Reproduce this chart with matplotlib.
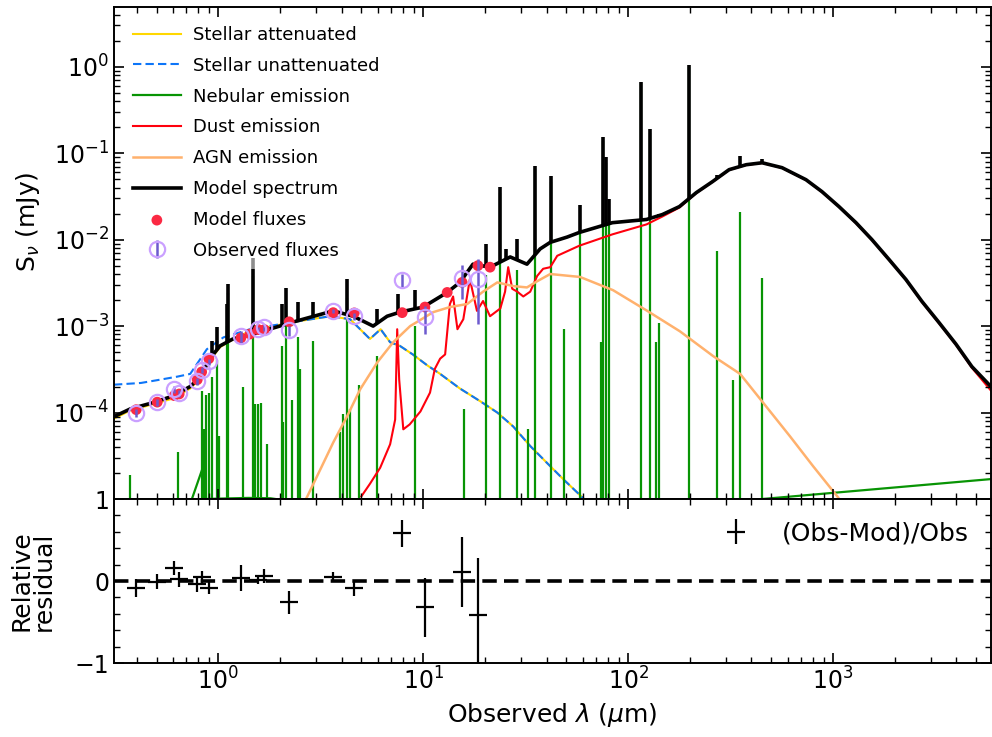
import numpy as np
import matplotlib.pyplot as plt

# wavelengths in micron, fluxes in mJy

stell_unatt_wl = [0.31, 0.42, 0.52, 0.63, 0.73, 0.82, 0.88, 1.06, 1.43, 2.25, 3.52, 4.4, 5.5,
                  6.2, 6.9, 7.7, 8.9, 10.5, 12.1, 15.1, 19.0, 23.0, 27.5, 33.3, 40.3, 48.2,
                  59.7, 75.0]
stell_unatt = [2.1e-4, 2.2e-4, 2.4e-4, 2.6e-4, 2.8e-4, 4.2e-4, 5.4e-4, 7.4e-4, 9.2e-4, 1.1e-3,
               1.3e-3, 1.2e-3, 7.1e-4, 9.2e-4, 6.5e-4, 5.9e-4, 4.7e-4, 3.5e-4, 2.8e-4, 1.9e-4,
               1.35e-4, 1.0e-4, 6.9e-5, 4.1e-5, 2.6e-5, 1.7e-5, 1.05e-5, 6e-6]

stell_att_wl = [0.31, 0.37, 0.48, 0.60, 0.73, 0.82, 0.91, 1.02, 1.18, 1.43, 2.25, 3.52, 4.4,
                5.5, 6.2, 6.9, 7.7, 8.9, 10.5, 12.1, 15.1, 19.0, 23.0, 27.5, 33.3, 40.3, 48.2,
                59.7, 75.0]
stell_att = [8.5e-5, 1.05e-4, 1.25e-4, 1.45e-4, 1.9e-4, 2.5e-4, 4.0e-4, 5.7e-4, 7.0e-4, 8.8e-4,
             1.1e-3, 1.3e-3, 1.2e-3, 7.1e-4, 9.2e-4, 6.5e-4, 5.9e-4, 4.7e-4, 3.5e-4, 2.8e-4,
             1.9e-4, 1.35e-4, 1.0e-4, 6.9e-5, 4.1e-5, 2.6e-5, 1.7e-5, 1.05e-5, 6e-6]

neb_cont_wl = [0.30, 0.72, 0.835, 0.845, 1.4, 1.8, 2.2, 3.0, 50.0, 300.0, 451.0, 5890.0]
neb_cont = [4e-6, 8e-6, 2.2e-5, 1.0e-5, 1.03e-5, 1.02e-5, 9.5e-6, 8e-6, 5e-6, 7e-6, 1.0e-5,
            1.7e-5]

neb_line_wl = [0.372, 0.638, 0.836, 0.855, 0.874, 0.904, 0.935, 0.99, 1.01, 1.10, 1.12, 1.32,
               1.48, 1.51, 1.57, 1.62, 1.73, 2.05, 2.07, 2.15, 2.30, 2.46, 2.51, 2.90, 3.94,
               4.07, 4.26, 4.40, 4.87, 5.97, 9.14, 15.8, 20.3, 23.8, 28.7, 32.5, 35.2, 42.1,
               48.7, 58.3, 73.8, 75.5, 78.1, 80.7, 116, 128, 137, 142, 199, 272, 325, 352, 451]
neb_line = [1.9e-5, 3.5e-5, 1.77e-4, 6.4e-5, 1.6e-4, 1.7e-4, 2.6e-4, 4e-4, 5.3e-5, 1.0e-3,
            2.4e-3, 2.0e-4, 3.8e-3, 1.25e-4, 1.25e-4, 1.3e-4, 4.3e-5, 5.9e-4, 7.7e-5, 1.7e-3,
            1.4e-4, 7.4e-4, 3.2e-4, 6.7e-4, 5.9e-5, 9.6e-5, 2.1e-3, 1.1e-4, 2.1e-4, 4.5e-4,
            1.0e-3, 1.1e-4, 3.9e-3, 3.5e-2, 4.4e-3, 6.4e-5, 6.5e-2, 4.6e-2, 9.2e-4, 1.3e-2,
            6.5e-4, 0.14, 7.7e-2, 1.5e-2, 0.65, 0.17, 6.5e-4, 1.1e-3, 1.0, 7.4e-3, 2.4e-4,
            2.1e-2, 3.6e-3]

dust_wl = [4.99, 5.5, 6.17, 6.9, 7.3, 7.47, 7.64, 8.0, 8.6, 9.7, 10.8, 11.4, 12.1, 12.8, 13.5,
           14.0, 14.7, 15.7, 16.9, 18.3, 19.6, 21.2, 23.8, 25.1, 26.0, 27.2, 28.8, 30.8, 33.3,
           36.0, 38.5, 41.7, 45.1, 57.8, 83.8, 123, 147, 178, 215, 258, 311, 377, 451, 564,
           738, 883, 1069, 1294, 1548, 1875, 2268, 2715, 3288, 3976, 4757, 5890]
dust = [1.07e-5, 1.5e-5, 2.3e-5, 4.3e-5, 8.3e-5, 9.2e-4, 2.4e-4, 6.4e-5, 7.3e-5, 1.03e-4,
        1.7e-4, 3.2e-4, 4.2e-4, 4.7e-4, 1.8e-3, 2.2e-3, 9.2e-4, 1.2e-3, 3.5e-3, 1.5e-3, 1.95e-3,
        1.3e-3, 1.6e-3, 2.5e-3, 4.8e-3, 2.7e-3, 2.5e-3, 2.2e-3, 2.5e-3, 3.8e-3, 4.6e-3, 4.8e-3,
        6.5e-3, 8.5e-3, 1.15e-2, 1.5e-2, 1.85e-2, 2.35e-2, 3.45e-2, 4.65e-2, 6.4e-2, 7.3e-2,
        7.7e-2, 6.75e-2, 4.9e-2, 3.55e-2, 2.4e-2, 1.55e-2, 9.9e-3, 5.85e-3, 3.42e-3, 1.9e-3,
        1.08e-3, 6.1e-4, 3.3e-4, 1.8e-4]

agn_wl = [2.55, 2.72, 3.15, 3.64, 4.26, 4.93, 5.97, 7.14, 8.64, 11.2, 13.5, 16.4, 19.6, 23.0,
          27.5, 32.1, 36.0, 41.7, 58.3, 84.5, 124, 179, 260, 352, 456, 617, 799, 1050, 1150]
agn = [8e-6, 1.07e-5, 2.2e-5, 4.5e-5, 9.1e-5, 1.86e-4, 3.8e-4, 6.5e-4, 1.0e-3, 1.45e-3, 1.66e-3,
       1.8e-3, 2.5e-3, 3.2e-3, 2.9e-3, 2.8e-3, 3.3e-3, 4.0e-3, 3.7e-3, 2.6e-3, 1.5e-3, 8.7e-4,
       4.5e-4, 2.8e-4, 1.3e-4, 5.3e-5, 2.4e-5, 1.07e-5, 8e-6]

model_wl = [0.305, 0.372, 0.48, 0.60, 0.73, 0.82, 0.91, 1.02, 1.18, 1.48, 1.94, 2.43, 3.64,
            4.56, 5.7, 6.67, 7.7, 10.0, 13.1, 15.1, 17.5, 21.2, 26.6, 32.1, 37.2, 41.7, 50.4,
            57.8, 83.8, 123, 147, 178, 215, 258, 311, 377, 451, 564, 738, 883, 1069, 1294,
            1548, 1875, 2268, 2715, 3288, 3976, 4757, 5890]
model = [8.8e-5, 1.1e-4, 1.3e-4, 1.55e-4, 2.0e-4, 2.6e-4, 4.2e-4, 5.9e-4, 7.1e-4, 8.1e-4,
         9.8e-4, 1.15e-3, 1.5e-3, 1.3e-3, 1.0e-3, 1.3e-3, 1.45e-3, 1.66e-3, 2.45e-3, 3.2e-3,
         5.2e-3, 4.8e-3, 6.3e-3, 5.2e-3, 7.8e-3, 9.3e-3, 1.07e-2, 1.21e-2, 1.57e-2, 1.71e-2,
         1.95e-2, 2.41e-2, 3.49e-2, 4.68e-2, 6.44e-2, 7.35e-2, 7.74e-2, 6.79e-2, 4.93e-2,
         3.59e-2, 2.41e-2, 1.57e-2, 1.0e-2, 5.9e-3, 3.46e-3, 1.93e-3, 1.1e-3, 6.2e-4, 3.4e-4,
         2.0e-4]

# spikes of the total model spectrum
spike_wl = [0.935, 0.99, 1.10, 1.12, 1.48, 2.05, 2.15, 2.46, 2.90, 4.26, 5.97, 7.55, 9.14,
            20.3, 23.8, 25.4, 28.7, 35.2, 42.1, 58.3, 75.5, 78.1, 80.7, 116, 128, 142, 199,
            272, 352, 451]
spike_top = [6.7e-4, 9.8e-4, 1.8e-3, 3.1e-3, 4.6e-3, 1.8e-3, 2.75e-3, 1.9e-3, 1.9e-3, 3.5e-3,
             1.58e-3, 2.35e-3, 2.6e-3, 8.9e-3, 4.1e-2, 7.8e-3, 1.02e-2, 7.1e-2, 5.5e-2, 2.5e-2,
             0.155, 0.091, 2.95e-2, 0.67, 0.19, 2.0e-2, 1.05, 5.6e-2, 9.3e-2, 8.6e-2]
# faint grey tip above the 1.48 micron spike
grey_tip_wl = [1.48]
grey_tip_lo = [4.6e-3]
grey_tip_hi = [6.2e-3]

mod_flux_wl = [0.398, 0.504, 0.61, 0.645, 0.79, 0.83, 0.90, 1.29, 1.43, 1.57, 1.68, 2.22, 3.64,
               4.61, 7.9, 10.2, 13.1, 15.5, 18.5, 21.2]
mod_flux = [1.08e-4, 1.32e-4, 1.57e-4, 1.64e-4, 2.4e-4, 2.95e-4, 4.2e-4, 7.3e-4, 8.1e-4, 9.1e-4,
            9.1e-4, 1.12e-3, 1.43e-3, 1.42e-3, 1.43e-3, 1.66e-3, 2.45e-3, 3.2e-3, 5.0e-3, 4.8e-3]

obs_wl = [0.398, 0.504, 0.61, 0.645, 0.79, 0.83, 0.90, 1.29, 1.57, 1.68, 2.22, 3.64, 4.61, 7.9,
          10.2, 15.5, 18.5]
obs_flux = [1.0e-4, 1.31e-4, 1.87e-4, 1.67e-4, 2.3e-4, 3.1e-4, 3.9e-4, 7.6e-4, 9.2e-4, 9.7e-4,
            8.9e-4, 1.5e-3, 1.3e-3, 3.4e-3, 1.26e-3, 3.6e-3, 3.5e-3]
obs_err = [1.1e-5, 1.2e-5, 1.7e-5, 1.5e-5, 2.1e-5, 2.3e-5, 3.1e-5, 1.2e-4, 4.6e-5, 8.7e-5,
           1.25e-4, 9e-5, 1.2e-4, 5.8e-4, 4.5e-4, 1.55e-3, 2.45e-3]

resid = [-0.085, -0.01, 0.16, 0.02, -0.04, 0.05, -0.08, 0.04, 0.01, 0.06, -0.26, 0.05, -0.09,
         0.58, -0.32, 0.11, -0.42]
resid_err = [0.11, 0.09, 0.09, 0.09, 0.09, 0.075, 0.08, 0.16, 0.05, 0.09, 0.14, 0.06, 0.09,
             0.17, 0.36, 0.43, 0.7]

xmin, xmax = 0.31, 5900.
ymin, ymax = 1e-5, 4.9

fig = plt.figure(figsize=(9.92, 7.37), dpi=100)
ax1 = fig.add_axes([0.1149, 0.3229, 0.8841, 0.6676])
ax2 = fig.add_axes([0.1149, 0.1004, 0.8841, 0.2225], sharex=ax1)

ax1.loglog(stell_att_wl, stell_att, color='gold', lw=1.5, label='Stellar attenuated', zorder=1)
ax1.loglog(stell_unatt_wl, stell_unatt, color='xkcd:deep sky blue', lw=1.5, ls='--',
           dashes=(4, 2), label='Stellar unattenuated', zorder=1.1)
ax1.loglog(neb_cont_wl, neb_cont, color='xkcd:true green', lw=1.6, label='Nebular emission',
           zorder=1.2)
ax1.vlines(neb_line_wl, 1e-6, neb_line, color='xkcd:true green', lw=1.6, zorder=1.2)
ax1.loglog(dust_wl, dust, color='xkcd:bright red', lw=1.5, label='Dust emission', zorder=1.3)
ax1.loglog(agn_wl, agn, color='xkcd:apricot', lw=1.8, label='AGN emission', zorder=1.4)
ax1.loglog(model_wl, model, color='k', lw=2.6, label='Model spectrum', zorder=2)
base = 10 ** np.interp(np.log10(spike_wl), np.log10(model_wl), np.log10(model))
ax1.vlines(spike_wl, base, spike_top, color='k', lw=2.6, zorder=2)
ax1.vlines(grey_tip_wl, grey_tip_lo, grey_tip_hi, color='0.55', lw=2.6, zorder=2)
ax1.scatter(mod_flux_wl, mod_flux, marker='o', s=60, color='xkcd:strawberry', zorder=3,
            label='Model fluxes', edgecolors='none')
ax1.errorbar(obs_wl, obs_flux, yerr=obs_err, ls='', marker='o', markerfacecolor='None',
             markersize=11, markeredgecolor='xkcd:pastel purple', markeredgewidth=1.6,
             color='xkcd:light indigo', elinewidth=1.8, capsize=0, zorder=4,
             label='Observed fluxes')

ax1.set_xlim(xmin, xmax)
ax1.set_ylim(ymin, ymax)
ax1.set_ylabel(r'S$_\nu$ (mJy)', fontsize=18)
ax1.yaxis.set_label_coords(-0.082, 0.563)
ax1.legend(loc='upper left', fontsize=13, frameon=False, handlelength=2.65,
           labelspacing=0.71, borderaxespad=0.65, handletextpad=0.67)
plt.setp(ax1.get_xticklabels(), visible=False)
ax1.set_yticks([1e-5, 1e-4, 1e-3, 1e-2, 1e-1, 1e0])
ax1.set_yticklabels(['', r'$10^{-4}$', r'$10^{-3}$', r'$10^{-2}$', r'$10^{-1}$', r'$10^{0}$'])

ax2.errorbar(obs_wl, resid, yerr=resid_err, marker='_', markersize=13, mew=1.6, color='k',
             ls='None', elinewidth=1.6, capsize=0, label='(Obs-Mod)/Obs')
ax2.plot([xmin, xmax], [0., 0.], ls='--', color='k', lw=2.6, dashes=(4, 2))
ax2.set_xscale('log')
ax2.set_xlim(xmin, xmax)
ax2.set_ylim(-1.0, 1.0)
ax2.set_yticks([-1, 0, 1])
ax2.set_yticks(np.arange(-1, 1.01, 0.2), minor=True)
ax2.set_xlabel(r'Observed $\lambda$ ($\mu$m)', fontsize=18)
ax2.set_ylabel('Relative\nresidual', fontsize=18, linespacing=0.95)
ax2.yaxis.set_label_coords(-0.066, 0.5)
ax2.legend(loc='upper right', fontsize=18, frameon=False, handlelength=1.0,
           handletextpad=1.34, borderaxespad=0.5)

for ax in (ax1, ax2):
    ax.tick_params(axis='both', which='both', direction='in', top=True, right=True,
                   labelsize=17)
    ax.tick_params(which='major', length=7, width=1.2)
    ax.tick_params(which='minor', length=4, width=1.0)
    for s in ax.spines.values():
        s.set_linewidth(1.4)

fig.savefig('out.png', dpi=100)
